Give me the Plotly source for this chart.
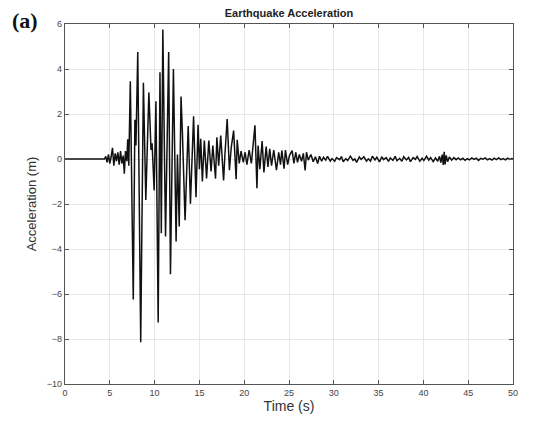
import plotly.graph_objects as go

# Time (s) and acceleration values
time_s = [
    0, 4.4, 4.55, 4.7, 4.85, 5.0, 5.15, 5.3, 5.45, 5.6, 5.75, 5.9, 6.05, 6.2, 6.35, 6.5, 6.62, 6.75, 6.9, 7.0, 7.12,
    7.29, 7.62, 7.8, 7.92, 8.12, 8.45, 8.75, 9.02, 9.36, 9.6, 9.72, 9.95, 10.15, 10.4, 10.6, 10.75, 10.92, 11.22,
    11.57, 11.77, 12.1, 12.4, 12.55, 12.75, 12.95, 13.1, 13.4, 13.75, 14.0, 14.35, 14.62, 14.85, 15.0,
    15.15, 15.33, 15.55, 15.8, 16.05, 16.3, 16.5, 16.8, 16.95, 17.15, 17.38, 17.7, 17.85, 18.1, 18.35, 18.55,
    18.82, 19.1, 19.22, 19.45, 19.65, 19.9, 20.1, 20.3, 20.55, 20.8, 21.2, 21.42, 21.55, 21.75, 22.0, 22.2,
    22.45, 22.65, 22.85, 23.05, 23.3, 23.6, 23.85, 24.05, 24.2, 24.45, 24.6, 24.85, 25.05, 25.35, 25.55, 25.75,
    25.95, 26.15, 26.4, 26.6, 26.8, 26.95, 27.15, 27.45, 27.7, 27.95, 28.2, 28.4, 28.65, 28.85,
    29.1, 29.3, 29.6, 29.8, 30.1, 30.3, 30.65, 30.85, 31.05, 31.35, 31.55, 31.85, 32.15, 32.35, 32.55, 32.85,
    33.05, 33.35, 33.65, 33.85, 34.1, 34.3, 34.6, 34.8, 35.1, 35.35, 35.55, 35.85, 36.1, 36.3, 36.6, 36.85,
    37.05, 37.35, 37.6, 37.8, 38.1, 38.35, 38.55, 38.85, 39.1, 39.3, 39.6, 39.85, 40.05, 40.35, 40.6, 40.8,
    41.1, 41.35, 41.6, 41.8, 41.95, 42.1, 42.22, 42.32, 42.42, 42.55, 42.7, 42.9, 43.15, 43.4, 43.65, 43.9,
    44.15, 44.4, 44.65, 44.9, 45.15, 45.4, 45.65, 45.9, 46.15, 46.4, 46.65, 46.9, 47.15, 47.4, 47.65, 47.9,
    48.15, 48.4, 48.65, 48.9, 49.15, 49.4, 49.65, 49.9, 50,
]
acceleration = [
    0, 0, 0.12, -0.15, 0.2, -0.2, 0.1, 0.5, -0.3, 0.25, -0.1, 0.3, -0.25, 0.35, -0.2, 0.15, -0.65, 0.35, -0.1, 0.88, -0.3,
    3.45, -6.24, 1.74, 0.6, 4.76, -8.14, 3.39, -1.82, 2.96, 0.4, 0.7, -1.4, 2.57, -7.27, 3.85, -3.3, 5.75, -3.44,
    4.75, -5.12, 4.0, -3.67, 0.2, -3.0, 2.78, 1.2, -2.72, 1.47, -1.99, 1.9, -1.7, 1.52, -0.45,
    0.9, -1.0, 0.82, -0.87, 0.82, -0.55, 0.6, -0.87, 0.97, -0.3, 1.04, -0.95, 0.2, 1.78, -0.5, 0.5,
    1.26, -0.9, 0.85, -0.2, 0.35, -0.15, 0.3, -0.25, 0.4, -0.2, 1.5, -1.3, 0.6, -0.45, 0.8, -0.6,
    0.55, -0.35, 0.45, -0.3, 0.4, -0.5, 0.3, -0.25, 0.38, -0.43, 0.4, -0.25, 0.15, 0.37, -0.2, 0.3,
    -0.15, 0.2, -0.1, 0.25, -0.51, 0.3, -0.05, 0.2, -0.12, 0.1, -0.2, 0.12, -0.1, 0.08,
    -0.05, 0.12, -0.09, 0.02, -0.1, 0.06, -0.03, 0.11, -0.12, 0.02, -0.07, 0.13, -0.06, 0.0, -0.15, 0.09,
    -0.02, 0.1, -0.1, 0.01, -0.09, 0.12, -0.04, 0.08, -0.13, 0.1, -0.03, 0.06, -0.11, 0.05, -0.06, 0.12,
    -0.08, 0.03, -0.1, 0.1, -0.04, 0.07, -0.12, 0.06, -0.02, 0.11, -0.1, 0.03, -0.07, 0.12, -0.05, 0.06,
    -0.12, 0.05, -0.1, 0.12, -0.16, 0.2, -0.26, 0.32, -0.24, 0.16, -0.12, 0.09, -0.05, 0.06, -0.03, 0.05,
    -0.04, 0.03, -0.06, 0.02, -0.04, 0.05, -0.02, 0.04, -0.06, 0.03, -0.01, 0.05, -0.04, 0.02, -0.05, 0.04,
    -0.03, 0.05, -0.03, 0.02, -0.04, 0.04, -0.02, 0.02, 0,
]

x_ticks = [0, 5, 10, 15, 20, 25, 30, 35, 40, 45, 50]
y_ticks = [-10, -8, -6, -4, -2, 0, 2, 4, 6]

fig = go.Figure()
fig.add_trace(go.Scatter(
    x=time_s, y=acceleration, mode="lines",
    line=dict(color="#111111", width=1.5),
    showlegend=False,
))

axis_common = dict(
    showline=True, linecolor="#555555", linewidth=1.2, mirror="ticks",
    ticks="inside", ticklen=4, tickcolor="#555555",
    showgrid=True, gridcolor="#e6e6e6", gridwidth=1,
    zeroline=False,
    tickfont=dict(family="Liberation Sans, Arial", size=9, color="#444444"),
)

# The page body adds an 8px margin, so the figure is 8px smaller and
# margins are reduced accordingly.
fig.update_layout(
    width=526, height=420,
    margin=dict(l=57, r=21, t=16, b=44),
    paper_bgcolor="white", plot_bgcolor="white",
    title=dict(
        text="<b>Earthquake Acceleration</b>",
        xref="paper", x=0.5, xanchor="center",
        yref="container", y=0.988, yanchor="middle",
        font=dict(family="Liberation Sans, Arial", size=11, color="#222222"),
    ),
    xaxis=dict(
        range=[0, 50], tickvals=x_ticks,
        title=dict(text="Time (s)", standoff=3,
                   font=dict(family="Liberation Sans, Arial", size=14, color="#333333")),
        **axis_common,
    ),
    yaxis=dict(
        range=[-10, 6], tickvals=y_ticks,
        title=dict(text="Acceleration (m)", standoff=7,
                   font=dict(family="Liberation Sans, Arial", size=13, color="#333333")),
        **axis_common,
    ),
    annotations=[dict(
        text="<b>(a)</b>", xref="paper", yref="paper",
        x=-0.089, y=1.011, xanchor="center", yanchor="middle",
        showarrow=False,
        font=dict(family="Liberation Serif, Times New Roman", size=22, color="#111111"),
    )],
)

fig.write_html("out.html")
